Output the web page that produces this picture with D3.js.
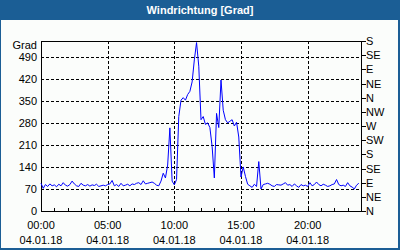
<!DOCTYPE html>
<html>
<head>
<meta charset="utf-8">
<script src="https://cdn.jsdelivr.net/npm/d3@7"></script>
<style>
html,body{margin:0;padding:0;background:#fff;}
svg{display:block;}
text{font-family:"Liberation Sans",Arial,sans-serif;font-size:11px;fill:#000;}
</style>
</head>
<body>
<svg id="chart" width="400" height="250"></svg>
<script>
const title = "Windrichtung [Grad]";
const yUnit = "Grad";
const leftTicks = [0, 70, 140, 210, 280, 350, 420, 490];
const rightTicks = [0, 45, 90, 135, 180, 225, 270, 315, 360, 405, 450, 495, 540];
const rightLabels = ["N","NE","E","SE","S","SW","W","NW","N","NE","E","SE","S"];
const xMajorHours = [0, 5, 10, 15, 20];
const xTimeLabels = ["00:00","05:00","10:00","15:00","20:00"];
const xDateLabel = "04.01.18";
const stepMinutes = 10;
const direction = [
  88,72,84,78,86,80,83,77,85,80,
  90,82,79,84,95,86,80,78,88,82,
  80,84,79,83,81,85,78,80,82,80,
  84,86,97,80,84,78,88,80,82,85,
  80,86,84,88,90,84,96,86,88,90,
  92,88,82,80,95,120,105,146,264,95,
  83,100,300,352,360,352,370,380,410,480,
  535,460,290,300,275,280,265,205,105,310,
  265,416,320,290,280,285,290,270,282,235,
  108,140,110,85,80,75,85,78,157,70,
  84,86,88,85,80,78,84,83,82,86,
  90,82,84,78,86,80,75,84,80,82,
  78,90,80,84,92,84,80,85,82,78,
  80,84,86,100,84,80,82,78,90,80,
  76,70,82,88
];

const svg = d3.select("#chart");
const W = 400, H = 250;
const blue = "#1b5e95";

// frame
svg.append("rect").attr("x",0).attr("y",0).attr("width",W).attr("height",H).attr("fill",blue);
svg.append("rect").attr("x",1).attr("y",20).attr("width",W-3).attr("height",H-22).attr("fill","#fbfdfb");
svg.append("text").attr("x",W/2).attr("y",14).attr("text-anchor","middle")
  .style("font-weight","bold").style("fill","#fff").style("font-size","11px").text(title);

const x = d3.scaleLinear().domain([0,24]).range([41,361]);
const y = d3.scaleLinear().domain([0,540]).range([211,41]);

const g = svg.append("g").attr("shape-rendering","crispEdges");

// horizontal grid
g.selectAll(".hg").data(leftTicks.filter(d=>d>0)).join("line")
  .attr("x1",x(0)).attr("x2",x(24)).attr("y1",d=>Math.round(y(d))+0.5).attr("y2",d=>Math.round(y(d))+0.5)
  .attr("stroke","#000").attr("stroke-dasharray","3,2");
// vertical grid
g.selectAll(".vg").data(xMajorHours.filter(d=>d>0)).join("line")
  .attr("x1",d=>Math.round(x(d))+0.5).attr("x2",d=>Math.round(x(d))+0.5).attr("y1",y(540)).attr("y2",y(0))
  .attr("stroke","#000").attr("stroke-dasharray","3,2");

// data line
const line = d3.line().x((d,i)=>x(i*stepMinutes/60)).y(d=>y(d));
svg.append("path").datum(direction).attr("d",line).attr("fill","none")
  .attr("stroke","#0000ff").attr("stroke-width",1);

// border
g.append("rect").attr("x",41.5).attr("y",41.5).attr("width",320).attr("height",170)
  .attr("fill","none").attr("stroke","#000");

// x minor ticks (hourly, inward)
g.selectAll(".xt").data(d3.range(1,24)).join("line")
  .attr("x1",d=>Math.round(x(d))+0.5).attr("x2",d=>Math.round(x(d))+0.5)
  .attr("y1",211.5).attr("y2",208)
  .attr("stroke","#000");

// right ticks
g.selectAll(".rt").data(rightTicks).join("line")
  .attr("x1",361).attr("x2",366)
  .attr("y1",d=>Math.round(y(d))+0.5).attr("y2",d=>Math.round(y(d))+0.5)
  .attr("stroke","#000");

// left labels
svg.selectAll(".yl").data(leftTicks).join("text")
  .attr("x",37).attr("y",d=>y(d)+4).attr("text-anchor","end").text(d=>d);
svg.append("text").attr("x",37).attr("y",49).attr("text-anchor","end").text(yUnit);

// right labels
svg.selectAll(".rl").data(rightTicks).join("text")
  .attr("x",366).attr("y",d=>y(d)+4).text((d,i)=>rightLabels[i]);

// x labels
svg.selectAll(".xl").data(xMajorHours).join("text")
  .attr("x",d=>x(d)).attr("y",229).attr("text-anchor","middle").text((d,i)=>xTimeLabels[i]);
svg.selectAll(".xd").data(xMajorHours).join("text")
  .attr("x",d=>x(d)).attr("y",244).attr("text-anchor","middle").text(xDateLabel);
</script>
</body>
</html>
